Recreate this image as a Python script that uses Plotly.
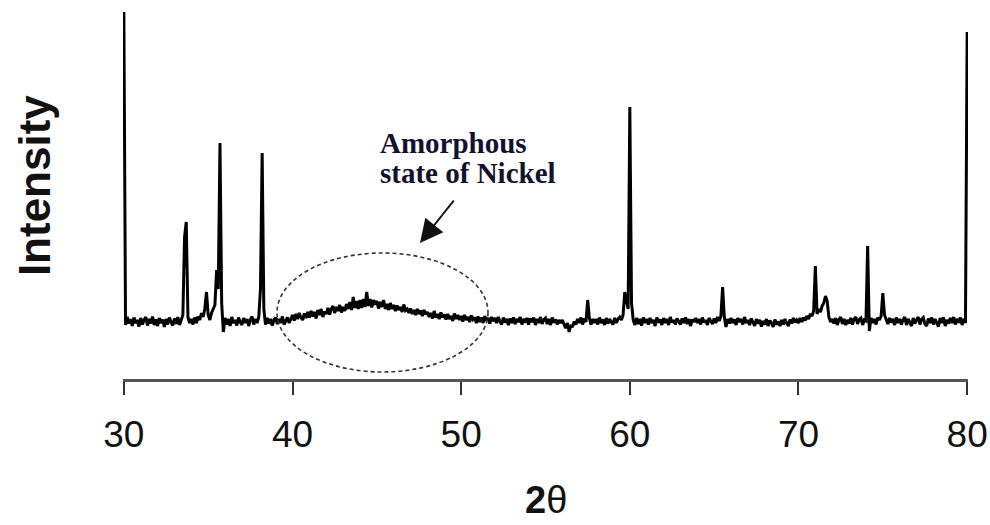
import numpy as np
import plotly.graph_objects as go

# XRD step scan: 2-theta from 30.0 to 80.0 deg in 0.1 deg steps (counts)
scan_start = 30.0
scan_step = 0.1
counts_by_degree = [
    [3670, 540, 620, 555, 600, 530, 615, 560, 590, 525],   # 30
    [610, 545, 590, 620, 535, 600, 555, 625, 540, 595],    # 31
    [530, 610, 560, 595, 520, 600, 545, 615, 570, 535],    # 32
    [605, 550, 620, 540, 590, 640, 1420, 1570, 620, 560],  # 33
    [600, 545, 615, 560, 625, 590, 660, 620, 700, 870],    # 34
    [640, 590, 660, 700, 740, 1090, 900, 2360, 760, 470],  # 35
    [610, 545, 600, 530, 620, 560, 590, 535, 615, 570],    # 36
    [540, 610, 560, 600, 530, 595, 625, 545, 600, 560],    # 37
    [620, 900, 2260, 700, 545, 610, 555, 600, 535, 590],   # 38
    [615, 550, 600, 560, 625, 545, 590, 615, 560, 600],    # 39
    [640, 585, 650, 600, 660, 615, 590, 655, 610, 670],    # 40
    [615, 680, 625, 670, 605, 690, 640, 700, 620, 675],    # 41
    [650, 710, 645, 700, 730, 660, 720, 680, 740, 665],    # 42
    [720, 680, 750, 700, 770, 690, 820, 710, 780, 700],    # 43
    [790, 710, 800, 720, 870, 730, 800, 715, 790, 745],    # 44
    [780, 705, 770, 720, 790, 700, 750, 690, 760, 700],    # 45
    [740, 680, 735, 690, 720, 670, 745, 685, 700, 660],    # 46
    [705, 650, 690, 640, 700, 650, 685, 630, 690, 645],    # 47
    [670, 620, 660, 605, 680, 615, 650, 600, 665, 615],    # 48
    [645, 595, 650, 600, 630, 580, 655, 600, 640, 590],    # 49
    [630, 575, 640, 590, 620, 570, 635, 595, 615, 560],    # 50
    [625, 570, 615, 560, 630, 585, 610, 555, 620, 580],    # 51
    [610, 560, 620, 575, 545, 615, 565, 600, 540, 605],    # 52
    [560, 615, 550, 600, 570, 620, 545, 600, 565, 610],    # 53
    [545, 605, 570, 615, 540, 600, 560, 620, 550, 595],    # 54
    [610, 550, 600, 540, 615, 565, 595, 545, 590, 560],    # 55
    [590, 545, 510, 560, 470, 540, 520, 575, 545, 600],    # 56
    [560, 615, 545, 605, 570, 790, 610, 545, 600, 560],    # 57
    [600, 545, 615, 560, 595, 540, 610, 555, 600, 570],    # 58
    [545, 610, 560, 600, 620, 590, 640, 870, 800, 700],    # 59
    [2720, 760, 590, 540, 610, 550, 600, 535, 615, 560],   # 60
    [600, 545, 610, 560, 590, 530, 615, 565, 595, 540],    # 61
    [610, 560, 600, 540, 620, 565, 590, 545, 605, 570],    # 62
    [545, 605, 560, 615, 550, 600, 530, 595, 570, 610],    # 63
    [560, 600, 545, 615, 565, 590, 540, 610, 575, 550],    # 64
    [605, 560, 620, 580, 630, 920, 620, 520, 600, 555],    # 65
    [610, 560, 595, 540, 610, 570, 600, 545, 620, 560],    # 66
    [590, 540, 605, 565, 530, 600, 555, 590, 525, 580],    # 67
    [545, 600, 530, 585, 560, 520, 595, 545, 575, 530],    # 68
    [590, 545, 600, 560, 530, 595, 555, 610, 565, 590],    # 69
    [560, 610, 570, 615, 585, 630, 600, 650, 630, 680],    # 70
    [1130, 650, 700, 670, 730, 760, 830, 780, 620, 570],   # 71
    [600, 555, 610, 540, 595, 620, 550, 600, 540, 590],    # 72
    [555, 610, 545, 600, 620, 550, 595, 610, 540, 590],    # 73
    [580, 1330, 480, 610, 560, 600, 545, 615, 590, 630],   # 74
    [860, 640, 600, 550, 610, 565, 600, 540, 615, 560],    # 75
    [600, 545, 590, 620, 540, 600, 565, 530, 610, 555],    # 76
    [590, 620, 545, 600, 615, 550, 530, 605, 560, 615],    # 77
    [545, 600, 560, 525, 610, 560, 615, 530, 590, 555],    # 78
    [610, 560, 620, 545, 600, 565, 615, 540, 600, 560],    # 79
]
counts_at_end = [3470]  # 80.0

tick_values = [30, 40, 50, 60, 70, 80]
tick_labels = ["30", "40", "50", "60", "70", "80"]

intensity = [v for row in counts_by_degree for v in row] + counts_at_end
two_theta = np.round(scan_start + scan_step * np.arange(len(intensity)), 1)

fig = go.Figure()
fig.add_trace(go.Scatter(
    x=two_theta, y=intensity, mode="lines",
    line=dict(color="#000000", width=3),
    showlegend=False, hoverinfo="skip",
))

# dashed ellipse around the broad amorphous hump
fig.add_shape(type="circle", xref="x", yref="y",
              x0=39.08, x1=51.59, y0=70, y1=1260,
              line=dict(color="#333333", width=1.6, dash="4px,3px"))

serif = "Liberation Serif, Times New Roman, serif"
sans = "Liberation Sans, Arial, sans-serif"
label_color = "#121230"

fig.add_annotation(x=45.07, y=2360, xref="x", yref="y", text="<b>Amorphous</b>",
                   showarrow=False, xanchor="left", yanchor="middle",
                   font=dict(family=serif, size=29, color=label_color))
fig.add_annotation(x=45.07, y=2065, xref="x", yref="y", text="<b>state of Nickel</b>",
                   showarrow=False, xanchor="left", yanchor="middle",
                   font=dict(family=serif, size=29, color=label_color))
fig.add_annotation(x=47.56, y=1360, xref="x", yref="y", text="",
                   showarrow=True, ax=35, ay=-44, arrowhead=2, arrowsize=2.3,
                   arrowwidth=2, arrowcolor="#111111", standoff=0)

# axis titles
fig.add_annotation(x=-0.1053, y=0.509, xref="paper", yref="paper",
                   text="<b>Intensity</b>", textangle=-90, showarrow=False,
                   xanchor="center", yanchor="middle",
                   font=dict(family=sans, size=44, color="#111111"))
fig.add_annotation(x=0.5, y=-0.318, xref="paper", yref="paper",
                   text="<b>2</b>θ", showarrow=False,
                   xanchor="center", yanchor="middle",
                   font=dict(family=sans, size=38, color="#111111"))

fig.update_layout(
    width=990, height=525,
    margin=dict(l=123, r=22, t=0, b=146),
    paper_bgcolor="white", plot_bgcolor="white",
    xaxis=dict(range=[29.95, 80.05], tickmode="array",
               tickvals=tick_values, ticktext=tick_labels,
               showgrid=False, zeroline=False,
               showline=True, linecolor="#555555", linewidth=3,
               ticks="outside", ticklen=13, tickwidth=2, tickcolor="#333333",
               tickfont=dict(family=sans, size=37, color="#111111"),
               ticklabelstandoff=8),
    yaxis=dict(range=[0, 3790], visible=False),
)

fig.write_html("out.html")
